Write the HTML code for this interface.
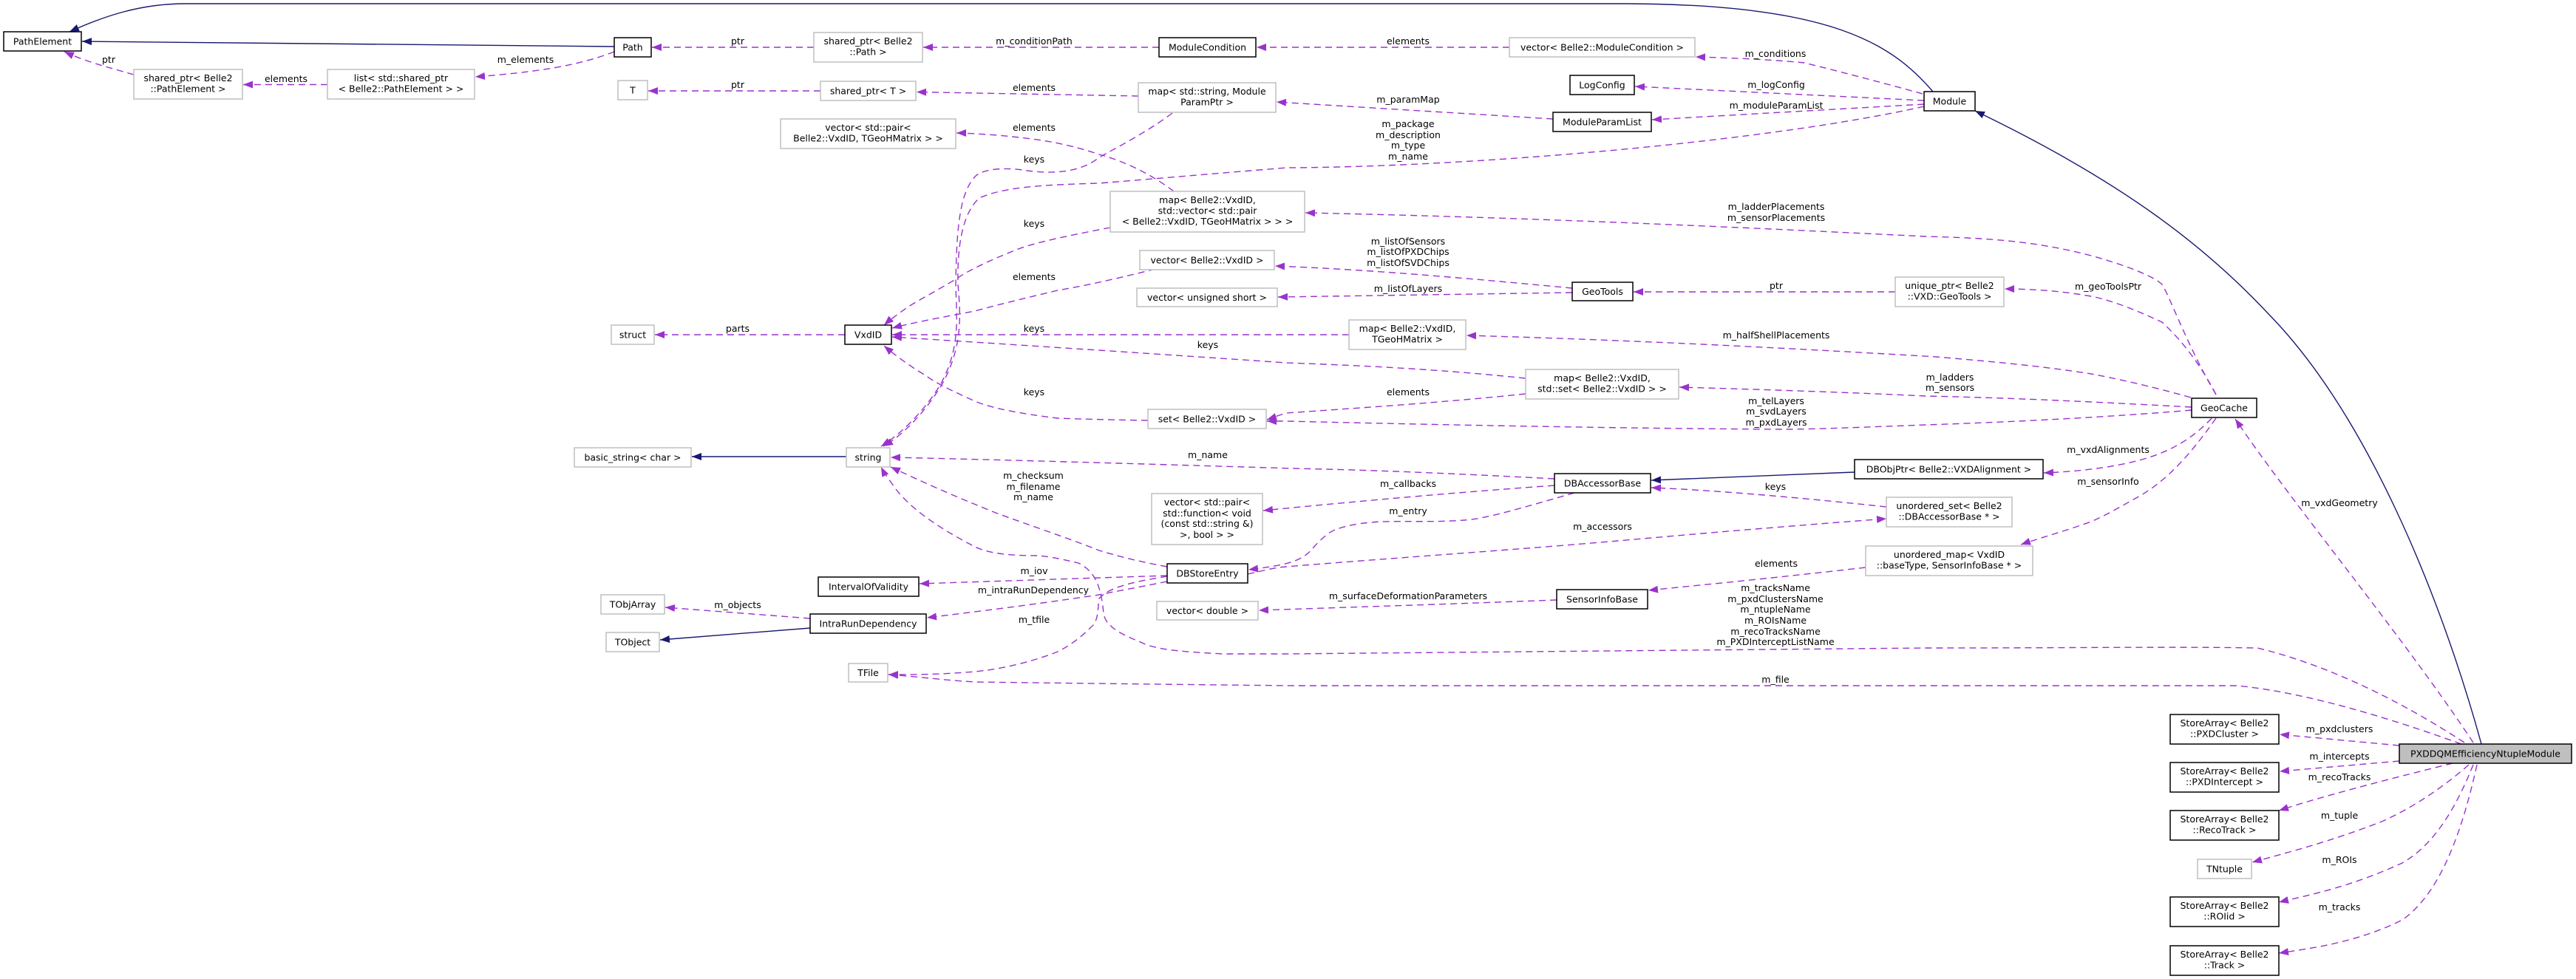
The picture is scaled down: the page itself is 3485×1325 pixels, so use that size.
<!DOCTYPE html>
<html><head><meta charset="utf-8"><style>
html,body{margin:0;padding:0;background:#fff;}
svg{display:block;}
text{font-family:"DejaVu Sans","Liberation Sans",sans-serif;font-size:12.5px;fill:#000;}
.n text,.l{text-anchor:middle;}
.b{fill:#fff;stroke:#000;stroke-width:1.5;}
.g{fill:#fff;stroke:#bfbfbf;stroke-width:1.5;}
.d{fill:none;stroke:#9a32cd;stroke-width:1.4;stroke-dasharray:9,6;}
.s{fill:none;stroke:#191970;stroke-width:1.4;}
</style></head><body>
<svg width="3485" height="1325" viewBox="0 0 3485 1325" xmlns="http://www.w3.org/2000/svg">
<defs>
<marker id="ap" markerUnits="userSpaceOnUse" markerWidth="14" markerHeight="10" refX="13" refY="5" orient="auto"><path d="M0,0 L13,5 L0,10 z" fill="#9a32cd"/></marker>
<marker id="an" markerUnits="userSpaceOnUse" markerWidth="14" markerHeight="10" refX="13" refY="5" orient="auto"><path d="M0,0 L13,5 L0,10 z" fill="#191970"/></marker>
</defs>

<!-- inheritance edges -->
<path class="s" marker-end="url(#an)" d="M2615,124 C2560,60 2480,6 2200,5 L250,5 C190,5 140,22 94,43"/>
<path class="s" marker-end="url(#an)" d="M831,63 L111,56"/>
<path class="s" marker-end="url(#an)" d="M3357,1007 C3300,800 3200,560 3071,427 C2990,340 2880,250 2672,150"/>
<path class="s" marker-end="url(#an)" d="M1145,618 L936,618"/>
<path class="s" marker-end="url(#an)" d="M1096,850 L893,866"/>
<path class="s" marker-end="url(#an)" d="M2509,639 L2234,650"/>

<!-- dashed edges -->
<path class="d" marker-end="url(#ap)" d="M1101,64 L882,64"/>
<path class="d" marker-end="url(#ap)" d="M1568,64 L1249,64"/>
<path class="d" marker-end="url(#ap)" d="M2042,64 L1700,64"/>
<path class="d" marker-end="url(#ap)" d="M2601,127 C2540,110 2470,92 2441,85 C2390,80 2330,78 2294,77"/>
<path class="d" marker-end="url(#ap)" d="M2603,136 L2212,117"/>
<path class="d" marker-end="url(#ap)" d="M2603,141 L2235,162"/>
<path class="d" marker-end="url(#ap)" d="M2603,144 C2400,190 2000,226 1740,227 L1487,248 C1420,250 1360,252 1325,268 C1300,290 1295,340 1296,385 C1300,430 1302,470 1274,521 C1250,560 1220,590 1195,604"/>
<path class="d" marker-end="url(#ap)" d="M2101,161 L1727,138"/>
<path class="d" marker-end="url(#ap)" d="M1540,130 L1240,124.5"/>
<path class="d" marker-end="url(#ap)" d="M1110,123 L877,123"/>
<path class="d" marker-end="url(#ap)" d="M181,101 C150,92 120,85 87,70"/>
<path class="d" marker-end="url(#ap)" d="M443,114.5 L329,114.5"/>
<path class="d" marker-end="url(#ap)" d="M831,70 C780,90 720,98 643,104"/>
<path class="d" marker-end="url(#ap)" d="M1586,153 C1550,180 1510,200 1487,213 C1460,235 1420,235 1390,231 C1360,226 1330,228 1319,239 C1300,260 1294,300 1293,385 C1294,430 1300,470 1272,521 C1248,560 1215,590 1192,604"/>
<path class="d" marker-end="url(#ap)" d="M1588,259 C1550,230 1510,215 1487,209 C1440,193 1403,188 1350,183 C1320,181 1305,180 1294,180"/>
<path class="d" marker-end="url(#ap)" d="M1502,308 C1450,318 1400,328 1375,338 C1340,352 1310,366 1296,376 C1270,392 1245,405 1229,415 C1215,425 1205,432 1196,440"/>
<path class="d" marker-end="url(#ap)" d="M2998,534 C2960,470 2935,400 2925,385 C2915,375 2880,360 2829,346 C2750,325 2680,322 2605,320 C2400,310 2100,295 1766,288"/>
<path class="d" marker-end="url(#ap)" d="M1563,364 C1500,380 1460,388 1431,393 C1380,405 1340,415 1319,421 C1260,432 1230,438 1207,444"/>
<path class="d" marker-end="url(#ap)" d="M2127,390 C2000,378 1860,365 1725,360"/>
<path class="d" marker-end="url(#ap)" d="M2127,396 L1729,402"/>
<path class="d" marker-end="url(#ap)" d="M2564,395 L2210,395"/>
<path class="d" marker-end="url(#ap)" d="M2998,534 C2970,480 2940,450 2925,436 C2880,415 2850,405 2829,401 C2790,394 2750,391 2712,391"/>
<path class="d" marker-end="url(#ap)" d="M1143,453 L886,453"/>
<path class="d" marker-end="url(#ap)" d="M1825,453 L1207,453"/>
<path class="d" marker-end="url(#ap)" d="M2964,538 C2900,520 2860,512 2829,506 C2760,495 2690,489 2620,483 C2400,470 2200,460 1984,454"/>
<path class="d" marker-end="url(#ap)" d="M2064,512 C1950,500 1850,495 1740,491 C1550,478 1350,465 1207,456"/>
<path class="d" marker-end="url(#ap)" d="M2064,533 C1950,545 1840,552 1740,559 C1730,562 1720,566 1714,568"/>
<path class="d" marker-end="url(#ap)" d="M2965,551 C2800,542 2700,538 2605,536 C2500,531 2380,527 2272,524"/>
<path class="d" marker-end="url(#ap)" d="M2965,555 C2850,565 2700,572 2605,575 C2500,579 2450,581 2413,581 C2200,580 1950,575 1740,570 L1714,570"/>
<path class="d" marker-end="url(#ap)" d="M1553,569 C1490,568 1460,567 1431,566 C1380,560 1340,552 1319,543 C1290,530 1265,518 1252,508 C1230,495 1210,480 1196,468"/>
<path class="d" marker-end="url(#ap)" d="M2992,566 C2970,590 2945,605 2919,615 C2880,630 2820,638 2765,640"/>
<path class="d" marker-end="url(#ap)" d="M2998,566 C2960,620 2930,650 2897,670 C2870,685 2850,697 2829,706 C2790,720 2760,728 2734,737"/>
<path class="d" marker-end="url(#ap)" d="M3346,1005 C3250,860 3100,680 3024,567"/>
<path class="d" marker-end="url(#ap)" d="M2103,648 C1950,640 1850,636 1750,634 C1550,628 1350,622 1205,619"/>
<path class="d" marker-end="url(#ap)" d="M2103,657 C1950,668 1820,680 1709,691"/>
<path class="d" marker-end="url(#ap)" d="M2552,686 C2450,675 2330,664 2234,660"/>
<path class="d" marker-end="url(#ap)" d="M2130,667 C2050,690 2010,702 1981,704 C1940,707 1900,705 1869,706 C1830,708 1805,715 1796,723 C1780,735 1775,745 1768,750 C1755,760 1740,765 1689,771"/>
<path class="d" marker-end="url(#ap)" d="M1688,777 C1710,772 1725,768 1740,767 C1900,754 2050,744 2189,732 C2300,722 2420,712 2552,702"/>
<path class="d" marker-end="url(#ap)" d="M1579,767 C1540,760 1510,752 1487,745 C1450,730 1390,710 1347,694 C1300,675 1260,658 1205,632"/>
<path class="d" marker-end="url(#ap)" d="M1579,779 L1244,790"/>
<path class="d" marker-end="url(#ap)" d="M1579,787 C1540,795 1510,800 1487,805 C1400,818 1320,828 1254,836"/>
<path class="d" marker-end="url(#ap)" d="M1096,837 L900,822"/>
<path class="d" marker-end="url(#ap)" d="M1579,780 C1530,788 1500,795 1487,810 C1485,825 1486,835 1480,845 C1460,865 1445,875 1431,882 C1390,898 1350,906 1319,909 C1270,913 1240,913 1202,913"/>
<path class="d" marker-end="url(#ap)" d="M3334,1005 C3250,950 3150,900 3054,877 C2950,875 2800,877 2605,877 L1740,885 L1656,885 C1590,882 1560,878 1543,869 C1510,856 1495,845 1493,830 C1490,800 1485,775 1459,762 C1430,755 1410,752 1403,752 C1360,752 1335,748 1319,740 C1280,720 1230,690 1207,655 C1200,645 1195,638 1192,632"/>
<path class="d" marker-end="url(#ap)" d="M3330,1007 C3200,960 3100,935 3026,928 L2605,928 L1750,928 C1550,926 1400,924 1319,923 C1270,920 1235,915 1202,913"/>
<path class="d" marker-end="url(#ap)" d="M2524,768 C2420,780 2320,790 2230,799"/>
<path class="d" marker-end="url(#ap)" d="M2106,812 C1950,818 1820,822 1703,826"/>
<path class="d" marker-end="url(#ap)" d="M3246,1009 L3084,994"/>
<path class="d" marker-end="url(#ap)" d="M3246,1030 L3084,1044"/>
<path class="d" marker-end="url(#ap)" d="M3318,1033 C3250,1050 3150,1075 3083,1097"/>
<path class="d" marker-end="url(#ap)" d="M3340,1035 C3300,1070 3260,1095 3222,1112 C3150,1140 3090,1155 3047,1167"/>
<path class="d" marker-end="url(#ap)" d="M3346,1035 C3320,1100 3290,1145 3250,1168 C3180,1200 3130,1210 3083,1221"/>
<path class="d" marker-end="url(#ap)" d="M3351,1035 C3330,1130 3300,1210 3250,1245 C3190,1275 3130,1283 3083,1290"/>

<!-- edge labels -->
<g class="lbl">
<text class="l" x="998" y="60">ptr</text>
<text class="l" x="1399" y="60">m_conditionPath</text>
<text class="l" x="1905" y="60">elements</text>
<text class="l" x="2402" y="77">m_conditions</text>
<text class="l" x="2403" y="119">m_logConfig</text>
<text class="l" x="2403" y="147">m_moduleParamList</text>
<text class="l" x="1905" y="172">m_package</text>
<text class="l" x="1905" y="187">m_description</text>
<text class="l" x="1905" y="201">m_type</text>
<text class="l" x="1905" y="216">m_name</text>
<text class="l" x="1905" y="139">m_paramMap</text>
<text class="l" x="1399" y="123">elements</text>
<text class="l" x="998" y="119">ptr</text>
<text class="l" x="147" y="85">ptr</text>
<text class="l" x="387" y="111">elements</text>
<text class="l" x="711" y="85">m_elements</text>
<text class="l" x="1399" y="220">keys</text>
<text class="l" x="1399" y="177">elements</text>
<text class="l" x="1399" y="307">keys</text>
<text class="l" x="2403" y="284">m_ladderPlacements</text>
<text class="l" x="2403" y="299">m_sensorPlacements</text>
<text class="l" x="1399" y="379">elements</text>
<text class="l" x="1905" y="331">m_listOfSensors</text>
<text class="l" x="1905" y="345">m_listOfPXDChips</text>
<text class="l" x="1905" y="360">m_listOfSVDChips</text>
<text class="l" x="1905" y="395">m_listOfLayers</text>
<text class="l" x="2403" y="391">ptr</text>
<text class="l" x="2852" y="392">m_geoToolsPtr</text>
<text class="l" x="998" y="449">parts</text>
<text class="l" x="1399" y="449">keys</text>
<text class="l" x="2403" y="458">m_halfShellPlacements</text>
<text class="l" x="1634" y="471">keys</text>
<text class="l" x="1905" y="535">elements</text>
<text class="l" x="2638" y="515">m_ladders</text>
<text class="l" x="2638" y="529">m_sensors</text>
<text class="l" x="2403" y="547">m_telLayers</text>
<text class="l" x="2403" y="561">m_svdLayers</text>
<text class="l" x="2403" y="576">m_pxdLayers</text>
<text class="l" x="1399" y="535">keys</text>
<text class="l" x="2852" y="613">m_vxdAlignments</text>
<text class="l" x="2852" y="656">m_sensorInfo</text>
<text class="l" x="3165" y="685">m_vxdGeometry</text>
<text class="l" x="1634" y="620">m_name</text>
<text class="l" x="1905" y="659">m_callbacks</text>
<text class="l" x="2402" y="663">keys</text>
<text class="l" x="1905" y="696">m_entry</text>
<text class="l" x="2168" y="717">m_accessors</text>
<text class="l" x="1398" y="648">m_checksum</text>
<text class="l" x="1398" y="663">m_filename</text>
<text class="l" x="1398" y="677">m_name</text>
<text class="l" x="1399" y="777">m_iov</text>
<text class="l" x="1398" y="803">m_intraRunDependency</text>
<text class="l" x="998" y="823">m_objects</text>
<text class="l" x="1399" y="843">m_tfile</text>
<text class="l" x="2402" y="800">m_tracksName</text>
<text class="l" x="2402" y="815">m_pxdClustersName</text>
<text class="l" x="2402" y="829">m_ntupleName</text>
<text class="l" x="2402" y="844">m_ROIsName</text>
<text class="l" x="2402" y="859">m_recoTracksName</text>
<text class="l" x="2402" y="873">m_PXDInterceptListName</text>
<text class="l" x="2402" y="924">m_file</text>
<text class="l" x="2403" y="767">elements</text>
<text class="l" x="1905" y="811">m_surfaceDeformationParameters</text>
<text class="l" x="3165" y="991">m_pxdclusters</text>
<text class="l" x="3165" y="1028">m_intercepts</text>
<text class="l" x="3165" y="1056">m_recoTracks</text>
<text class="l" x="3165" y="1108">m_tuple</text>
<text class="l" x="3165" y="1168">m_ROIs</text>
<text class="l" x="3165" y="1232">m_tracks</text>
</g>

<!-- nodes -->
<g class="n">
<rect class="b" x="5" y="43" width="105" height="26"/><text x="57.5" y="60.5">PathElement</text>
<rect class="b" x="831" y="51" width="50" height="26"/><text x="856" y="68.5">Path</text>
<rect class="g" x="181" y="94" width="147" height="40"/><text x="254.5" y="110">shared_ptr&lt; Belle2</text><text x="254.5" y="124.5">::PathElement &gt;</text>
<rect class="g" x="443" y="94" width="199" height="40"/><text x="542.5" y="110">list&lt; std::shared_ptr</text><text x="542.5" y="124.5">&lt; Belle2::PathElement &gt; &gt;</text>
<rect class="g" x="836" y="109" width="40" height="26"/><text x="856" y="126.5">T</text>
<rect class="g" x="827" y="440" width="58" height="26"/><text x="856" y="457.5">struct</text>
<rect class="g" x="777" y="606" width="158" height="26"/><text x="856" y="623.5">basic_string&lt; char &gt;</text>
<rect class="g" x="1101" y="44" width="147" height="40"/><text x="1174.5" y="60">shared_ptr&lt; Belle2</text><text x="1174.5" y="74.5">::Path &gt;</text>
<rect class="b" x="1568" y="51" width="131" height="26"/><text x="1633.5" y="68.5">ModuleCondition</text>
<rect class="g" x="1110" y="110" width="129" height="26"/><text x="1174.5" y="127.5">shared_ptr&lt; T &gt;</text>
<rect class="g" x="1540" y="112" width="186" height="40"/><text x="1633" y="128">map&lt; std::string, Module</text><text x="1633" y="142.5">ParamPtr &gt;</text>
<rect class="g" x="1056" y="161" width="237" height="40"/><text x="1174.5" y="177">vector&lt; std::pair&lt;</text><text x="1174.5" y="191.5">Belle2::VxdID, TGeoHMatrix &gt; &gt;</text>
<rect class="g" x="1502" y="259" width="263" height="55"/><text x="1633.5" y="275">map&lt; Belle2::VxdID,</text><text x="1633.5" y="289.5">std::vector&lt; std::pair</text><text x="1633.5" y="304">&lt; Belle2::VxdID, TGeoHMatrix &gt; &gt; &gt;</text>
<rect class="g" x="1542" y="339" width="182" height="26"/><text x="1633" y="356.5">vector&lt; Belle2::VxdID &gt;</text>
<rect class="g" x="1538" y="390" width="190" height="25"/><text x="1633" y="407">vector&lt; unsigned short &gt;</text>
<rect class="b" x="1143" y="440" width="63" height="26"/><text x="1174.5" y="457.5">VxdID</text>
<rect class="g" x="1553" y="554" width="160" height="26"/><text x="1633" y="571.5">set&lt; Belle2::VxdID &gt;</text>
<rect class="g" x="1145" y="606" width="59" height="26"/><text x="1174.5" y="623.5">string</text>
<rect class="g" x="1558" y="668" width="150" height="69"/><text x="1633" y="684">vector&lt; std::pair&lt;</text><text x="1633" y="699">std::function&lt; void</text><text x="1633" y="713">(const std::string &amp;)</text><text x="1633" y="728">&gt;, bool &gt; &gt;</text>
<rect class="g" x="2042" y="51" width="251" height="26"/><text x="2167.5" y="68.5">vector&lt; Belle2::ModuleCondition &gt;</text>
<rect class="b" x="2124" y="102" width="87" height="26"/><text x="2167.5" y="119.5">LogConfig</text>
<rect class="b" x="2101" y="152" width="133" height="26"/><text x="2167.5" y="169.5">ModuleParamList</text>
<rect class="b" x="2603" y="124" width="69" height="26"/><text x="2637.5" y="141.5">Module</text>
<rect class="b" x="2127" y="382" width="82" height="25"/><text x="2168" y="399">GeoTools</text>
<rect class="g" x="2564" y="375" width="147" height="40"/><text x="2637.5" y="391">unique_ptr&lt; Belle2</text><text x="2637.5" y="405.5">::VXD::GeoTools &gt;</text>
<rect class="g" x="1825" y="433" width="158" height="40"/><text x="1904" y="449">map&lt; Belle2::VxdID,</text><text x="1904" y="463.5">TGeoHMatrix &gt;</text>
<rect class="g" x="2064" y="500" width="207" height="40"/><text x="2167.5" y="516">map&lt; Belle2::VxdID,</text><text x="2167.5" y="530.5">std::set&lt; Belle2::VxdID &gt; &gt;</text>
<rect class="b" x="2509" y="622" width="255" height="26"/><text x="2636.5" y="639.5">DBObjPtr&lt; Belle2::VXDAlignment &gt;</text>
<rect class="b" x="2103" y="641" width="130" height="26"/><text x="2168" y="658.5">DBAccessorBase</text>
<rect class="b" x="2965" y="539" width="88" height="26"/><text x="3009" y="556.5">GeoCache</text>
<rect class="b" x="1579" y="763" width="109" height="26"/><text x="1633.5" y="780.5">DBStoreEntry</text>
<rect class="b" x="1107" y="781" width="136" height="26"/><text x="1175" y="798.5">IntervalOfValidity</text>
<rect class="b" x="1096" y="831" width="157" height="26"/><text x="1174.5" y="848.5">IntraRunDependency</text>
<rect class="g" x="813" y="805" width="86" height="26"/><text x="856" y="822.5">TObjArray</text>
<rect class="g" x="820" y="856" width="72" height="26"/><text x="856" y="873.5">TObject</text>
<rect class="g" x="1148" y="898" width="53" height="25"/><text x="1174.5" y="915">TFile</text>
<rect class="g" x="1565" y="814" width="137" height="25"/><text x="1633.5" y="831">vector&lt; double &gt;</text>
<rect class="g" x="2552" y="673" width="170" height="40"/><text x="2637" y="689">unordered_set&lt; Belle2</text><text x="2637" y="703.5">::DBAccessorBase * &gt;</text>
<rect class="g" x="2524" y="739" width="226" height="40"/><text x="2637" y="755">unordered_map&lt; VxdID</text><text x="2637" y="769.5">::baseType, SensorInfoBase * &gt;</text>
<rect class="b" x="2106" y="798" width="123" height="26"/><text x="2167.5" y="815.5">SensorInfoBase</text>
<rect x="3246" y="1007" width="233" height="26" fill="#bfbfbf" stroke="#000" stroke-width="1.5"/><text x="3362.5" y="1024.5">PXDDQMEfficiencyNtupleModule</text>
<rect class="b" x="2936" y="967" width="147" height="40"/><text x="3009.5" y="983">StoreArray&lt; Belle2</text><text x="3009.5" y="997.5">::PXDCluster &gt;</text>
<rect class="b" x="2936" y="1032" width="147" height="40"/><text x="3009.5" y="1048">StoreArray&lt; Belle2</text><text x="3009.5" y="1062.5">::PXDIntercept &gt;</text>
<rect class="b" x="2936" y="1097" width="147" height="40"/><text x="3009.5" y="1113">StoreArray&lt; Belle2</text><text x="3009.5" y="1127.5">::RecoTrack &gt;</text>
<rect class="g" x="2973" y="1163" width="73" height="26"/><text x="3009.5" y="1180.5">TNtuple</text>
<rect class="b" x="2936" y="1214" width="147" height="40"/><text x="3009.5" y="1230">StoreArray&lt; Belle2</text><text x="3009.5" y="1244.5">::ROIid &gt;</text>
<rect class="b" x="2936" y="1280" width="147" height="40"/><text x="3009.5" y="1296">StoreArray&lt; Belle2</text><text x="3009.5" y="1310.5">::Track &gt;</text>
</g>
</svg>
</body></html>
